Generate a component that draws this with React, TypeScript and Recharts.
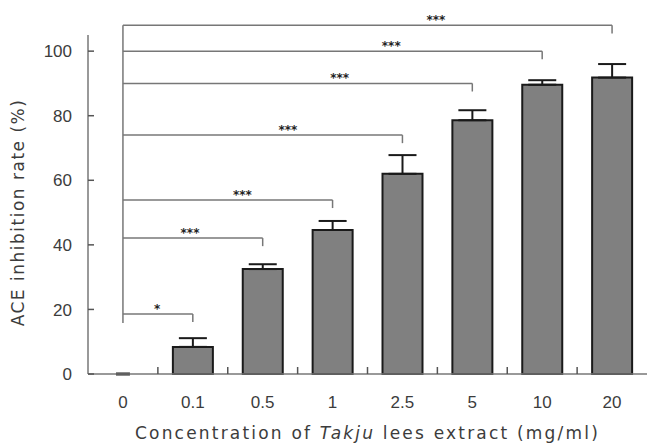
import { BarChart, Bar, XAxis, YAxis, ErrorBar, ReferenceLine, ReferenceDot } from 'recharts';

const categories = ['0', '0.1', '0.5', '1', '2.5', '5', '10', '20'];
const inhibition = [0, 8.4, 32.5, 44.6, 62, 78.6, 89.6, 91.8];
const sem = [0, 2.7, 1.5, 2.8, 5.8, 3.1, 1.4, 4.2];
const yTicks = [0, 20, 40, 60, 80, 100];

// significance brackets: bar 0 vs bar i
const sigHeights = [18.6, 42.1, 53.9, 74, 90, 100, 108];
const sigMarks = ['*', '***', '***', '***', '***', '***', '***'];

const data = categories.map((c, i) => ({
  x: i,
  name: c,
  value: inhibition[i],
  err: [0, sem[i]],
}));

const xTicks = categories.flatMap((_, i) => (i < categories.length - 1 ? [i, i + 0.5] : [i]));

const TEXT = '#3c3c3c';
const AXIS = '#777';
const markShift = [0.49, 0.48, 0.57, 0.59, 0.62, 0.64, 0.64];

const YTick = ({ x, y, payload }: any) => (
  <g>
    <line x1={x} x2={x + 6} y1={y} y2={y} stroke="#555" strokeWidth={1.5} />
    <text x={x - 16} y={y} dy="0.36em" textAnchor="end" fill={TEXT} fontSize={17} fontFamily="Liberation Sans">
      {payload.value}
    </text>
  </g>
);

const XTick = ({ x, y, payload }: any) => {
  if (!Number.isInteger(payload.value)) {
    return <line x1={x} x2={x} y1={y} y2={y - 7} stroke="#555" strokeWidth={1.5} />;
  }
  return (
    <text x={x} y={y + 34} textAnchor="middle" fill={TEXT} fontSize={17} fontFamily="Liberation Sans">
      {categories[payload.value]}
    </text>
  );
};

export default function App() {
  const drop = 2.5;
  return (
    <div style={{ position: 'absolute', left: 0, top: 0 }}>
      <BarChart width={647} height={447} data={data} margin={{ top: 35, right: 0, bottom: 0, left: 0 }}>
        <XAxis
          dataKey="x"
          type="number"
          domain={[-0.5, 7.5]}
          ticks={xTicks}
          interval={0}
          tickSize={0}
          tickMargin={0}
          tickLine={false}
          axisLine={{ stroke: AXIS, strokeWidth: 1.5 }}
          tick={<XTick />}
          height={73}
          label={{
            content: ({ viewBox }: any) => (
              <text
                x={viewBox.x + viewBox.width / 2}
                y={viewBox.y + 65}
                textAnchor="middle"
                fill={TEXT}
                fontSize={17}
                fontFamily="DejaVu Sans"
                letterSpacing={2.2}
              >
                Concentration of <tspan fontStyle="italic">Takju</tspan> lees extract (mg/ml)
              </text>
            ),
          }}
        />
        <YAxis
          type="number"
          domain={[0, 105]}
          ticks={yTicks}
          interval={0}
          width={88}
          tickSize={0}
          tickMargin={0}
          tickLine={false}
          axisLine={{ stroke: AXIS, strokeWidth: 1.5 }}
          tick={<YTick />}
          label={{
            content: ({ viewBox }: any) => {
              const cx = viewBox.x + 18;
              const cy = viewBox.y + viewBox.height / 2 + 8;
              return (
                <text
                  x={cx}
                  y={cy}
                  transform={`rotate(-90 ${cx} ${cy})`}
                  textAnchor="middle"
                  dominantBaseline="central"
                  fill={TEXT}
                  fontSize={17}
                  fontFamily="DejaVu Sans"
                  letterSpacing={1.5}
                >
                  ACE inhibition rate (%)
                </text>
              );
            },
          }}
        />
        <Bar dataKey="value" fill="#808080" stroke="#1a1a1a" strokeWidth={2} barSize={40} isAnimationActive={false}>
          <ErrorBar dataKey="err" width={14} stroke="#1a1a1a" strokeWidth={2} direction="y" />
        </Bar>
        {/* control (0 mg/ml) has no visible bar, only its cap */}
        <ReferenceLine
          segment={[
            { x: -0.1, y: inhibition[0] },
            { x: 0.1, y: inhibition[0] },
          ]}
          stroke="#1a1a1a"
          strokeWidth={3}
          ifOverflow="visible"
        />
        <ReferenceLine
          segment={[
            { x: 0, y: 15.8 },
            { x: 0, y: sigHeights[sigHeights.length - 1] },
          ]}
          stroke={AXIS}
          strokeWidth={1.5}
          ifOverflow="visible"
        />
        {sigHeights.map((h, k) => (
          <ReferenceLine
            key={`h${k}`}
            segment={[
              { x: 0, y: h },
              { x: k + 1, y: h },
            ]}
            stroke={AXIS}
            strokeWidth={1.5}
            ifOverflow="visible"
          />
        ))}
        {sigHeights.map((h, k) => (
          <ReferenceLine
            key={`d${k}`}
            segment={[
              { x: k + 1, y: h },
              { x: k + 1, y: h - drop },
            ]}
            stroke={AXIS}
            strokeWidth={1.5}
            ifOverflow="visible"
          />
        ))}
        {sigHeights.map((h, k) => (
          <ReferenceDot
            key={`m${k}`}
            x={(k + 1) * markShift[k]}
            y={h}
            r={0}
            fill="none"
            stroke="none"
            ifOverflow="visible"
            label={{ value: sigMarks[k], position: 'top', offset: 1, fill: '#222', fontSize: 12, fontWeight: 'bold', fontFamily: 'DejaVu Sans' }}
          />
        ))}
      </BarChart>
    </div>
  );
}
